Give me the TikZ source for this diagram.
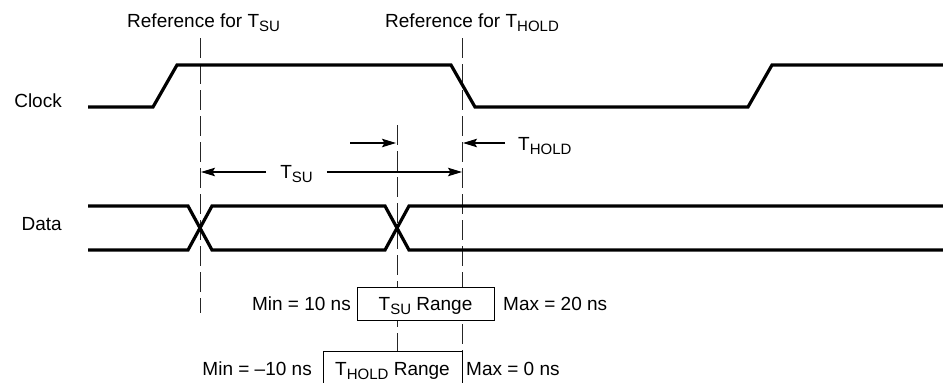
\documentclass[tikz,border=0pt]{standalone}
\usepackage{fontspec}
\setmainfont{Liberation Sans}
\usetikzlibrary{arrows.meta}
\newcommand\lblfont{\fontsize{19}{22}\selectfont}
\newcommand\subs[1]{\raisebox{-4pt}{\fontsize{15}{16}\selectfont #1}}
\begin{document}
\begin{tikzpicture}[x=1pt,y=-1pt,
  every node/.style={inner sep=0pt, font=\lblfont},
  wave/.style={line width=3.2pt, line join=miter},
  refline/.style={line width=0.9pt, black!85, dash pattern=on 20pt off 6pt},
  dim/.style={line width=1.4pt, -{Stealth[length=14pt,width=8.5pt,inset=2.5pt]}},
  rangebox/.style={draw, line width=0.9pt, fill=white}]
\useasboundingbox (0,0) rectangle (943,383);
\clip (0,0) rectangle (943,383);

% reference lines
\coordinate (r1t) at (200,38);  \coordinate (r1b) at (200,313);
\coordinate (r2t) at (462,38);  \coordinate (r2b) at (462,351);
\coordinate (mt)  at (397,125); \coordinate (mb)  at (397,351);
\draw[refline] (r1t) -- (r1b);
\draw[refline] (r2t) -- (r2b);
\draw[refline] (mt) -- (mb);

% labels
\node[anchor=base west] (refsu) at (127,27) {Reference for T\subs{SU}};
\node[anchor=base west] (refhold) at (385,27) {Reference for T\subs{HOLD}};
\node[anchor=base east] (clk) at (62,107) {Clock};
\node[anchor=base east] (dat) at (62,230) {Data};

% clock
\draw[wave] (88,107) -- (153,107) -- (177,65) -- (451,65) -- (475,107)
  -- (748,107) -- (772,65) -- (943,65);
% data
\draw[wave] (88,206) -- (188,206) -- (212,250) -- (385,250) -- (409,206) -- (943,206);
\draw[wave] (88,250) -- (188,250) -- (212,206) -- (385,206) -- (409,250) -- (943,250);

% T_SU dimension
\node[anchor=base, inner xsep=14pt] (tsu) at (296.5,178) {T\subs{SU}};
\coordinate (a1l) at (201,172);
\coordinate (a1r) at (462,172);
\draw[dim] (tsu.west |- a1l) -- (a1l);
\draw[dim] (tsu.east |- a1r) -- (a1r);

% T_HOLD dimension
\coordinate (h1s) at (350,143);
\coordinate (h1e) at (396,143);
\draw[dim] (h1s) -- (h1e);
\node[anchor=base west, inner xsep=13pt] (thold) at (505,150) {T\subs{HOLD}};
\coordinate (h2e) at (463,143);
\draw[dim] (thold.west |- h2e) -- (h2e);

% range boxes
\node[rangebox, minimum width=137pt, minimum height=33pt, text height=14pt, text depth=1pt]
  (surange) at (425.5,303.5) {T\subs{SU} Range};
\node[anchor=base east] (min1) at (351,310) {Min = 10 ns};
\node[anchor=base west] (max1) at (503,310) {Max = 20 ns};

\node[rangebox, minimum width=139pt, minimum height=48pt, text height=10pt, text depth=10pt]
  (holdrange) at (392.5,375) {T\subs{HOLD} Range};
\node[anchor=base east] (min2) at (312,375) {Min = –10 ns};
\node[anchor=base west] (max2) at (466,375) {Max = 0 ns};
\end{tikzpicture}
\end{document}
